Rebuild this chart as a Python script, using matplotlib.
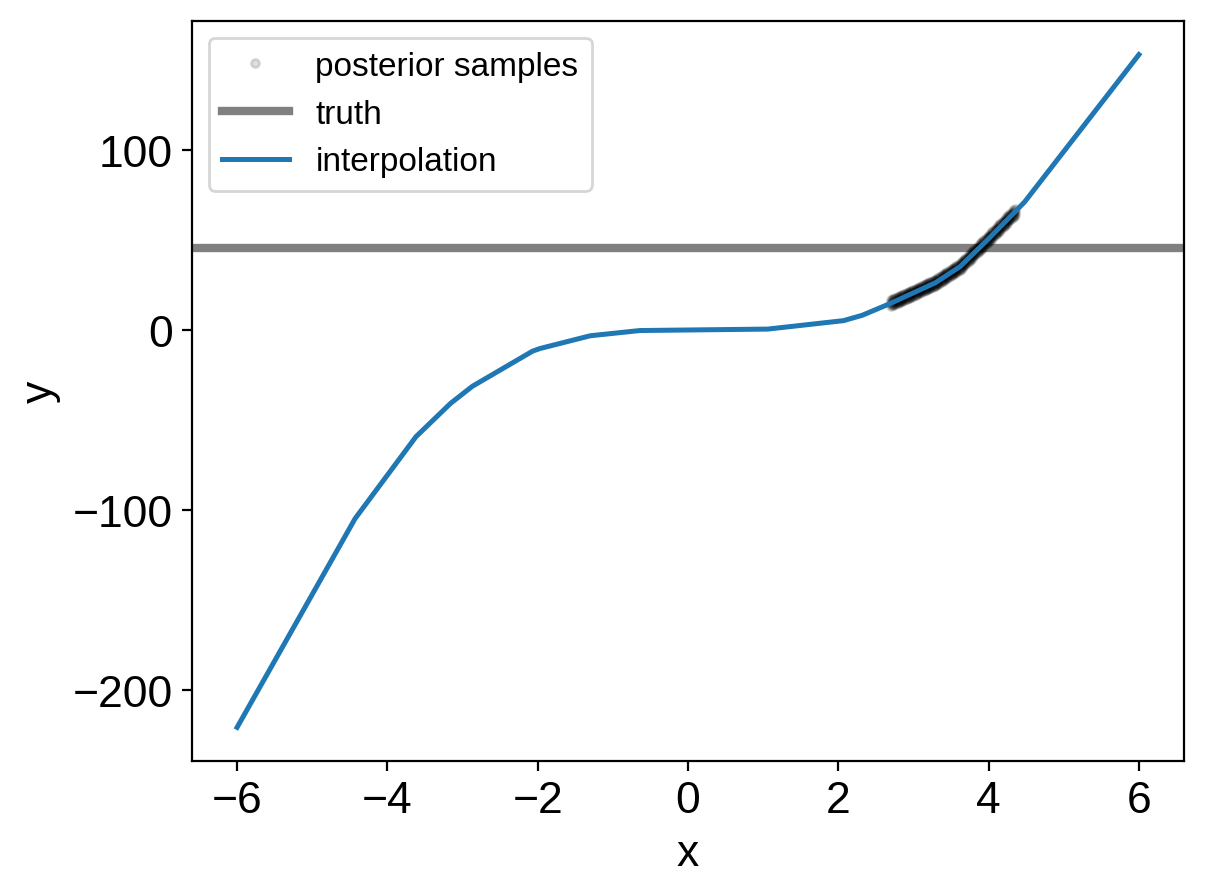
import matplotlib
matplotlib.use("Agg")
import matplotlib.pyplot as plt

plt.rcParams['font.family'] = ['Liberation Sans', 'DejaVu Sans']
plt.rcParams['font.size'] = 16

# interpolation nodes
x_interp = [-6.0, -4.43, -3.62, -3.16, -2.87, -2.07, -1.97, -1.30, -0.64,
            1.06, 2.07, 2.32, 2.69, 3.29, 3.62, 4.00, 4.48, 6.0]
y_interp = [-221.0, -105.0, -59.5, -41.0, -31.5, -12.0, -10.5, -3.4, -0.5,
            0.3, 5.0, 8.0, 14.5, 26.0, 35.0, 50.5, 71.0, 152.8]

truth = 45.5

# posterior samples: one x grid, three chains of y
x_samples = [2.700, 2.715, 2.730, 2.745, 2.760, 2.775, 2.790, 2.805, 2.820, 2.835,
             2.850, 2.865, 2.880, 2.895, 2.910, 2.925, 2.940, 2.955, 2.970, 2.985,
             3.000, 3.015, 3.030, 3.045, 3.060, 3.075, 3.090, 3.105, 3.120, 3.135,
             3.150, 3.165, 3.180, 3.195, 3.210, 3.225, 3.240, 3.255, 3.270, 3.285,
             3.300, 3.315, 3.330, 3.345, 3.360, 3.375, 3.390, 3.405, 3.420, 3.435,
             3.450, 3.465, 3.480, 3.495, 3.510, 3.525, 3.540, 3.555, 3.570, 3.585,
             3.600, 3.615, 3.630, 3.645, 3.660, 3.675, 3.690, 3.705, 3.720, 3.735,
             3.750, 3.765, 3.780, 3.795, 3.810, 3.825, 3.840, 3.855, 3.870, 3.885,
             3.900, 3.915, 3.930, 3.945, 3.960, 3.975, 3.990, 4.005, 4.020, 4.035,
             4.050, 4.065, 4.080, 4.095, 4.110, 4.125, 4.140, 4.155, 4.170, 4.185,
             4.200, 4.215, 4.230, 4.245, 4.260, 4.275, 4.290, 4.305, 4.320, 4.335,
             4.350]
y_chain1 = [14.69, 14.98, 15.27, 15.55, 15.84, 16.13, 16.42, 16.70, 16.99, 17.28,
            17.57, 17.85, 18.14, 18.43, 18.72, 19.00, 19.29, 19.58, 19.87, 20.15,
            20.44, 20.73, 21.02, 21.30, 21.59, 21.88, 22.17, 22.45, 22.74, 23.03,
            23.32, 23.60, 23.89, 24.18, 24.47, 24.75, 25.04, 25.33, 25.62, 25.90,
            26.27, 26.68, 27.09, 27.50, 27.91, 28.32, 28.73, 29.14, 29.55, 29.95,
            30.36, 30.77, 31.18, 31.59, 32.00, 32.41, 32.82, 33.23, 33.64, 34.05,
            34.45, 34.86, 35.41, 36.02, 36.63, 37.24, 37.86, 38.47, 39.08, 39.69,
            40.30, 40.91, 41.53, 42.14, 42.75, 43.36, 43.97, 44.59, 45.20, 45.81,
            46.42, 47.03, 47.64, 48.26, 48.87, 49.48, 50.09, 50.71, 51.35, 51.99,
            52.64, 53.28, 53.92, 54.56, 55.20, 55.84, 56.48, 57.12, 57.76, 58.40,
            59.04, 59.68, 60.32, 60.96, 61.60, 62.25, 62.89, 63.53, 64.17, 64.81,
            65.45]
y_chain2 = [16.19, 16.48, 16.77, 17.05, 17.34, 17.63, 17.92, 18.20, 18.49, 18.78,
            19.07, 19.35, 19.64, 19.93, 20.22, 20.50, 20.79, 21.08, 21.37, 21.65,
            21.94, 22.23, 22.52, 22.80, 23.09, 23.38, 23.67, 23.95, 24.24, 24.53,
            24.82, 25.10, 25.39, 25.68, 25.97, 26.25, 26.54, 26.83, 27.12, 27.40,
            27.77, 28.18, 28.59, 29.00, 29.41, 29.82, 30.23, 30.64, 31.05, 31.45,
            31.86, 32.27, 32.68, 33.09, 33.50, 33.91, 34.32, 34.73, 35.14, 35.55,
            35.95, 36.36, 36.91, 37.52, 38.13, 38.74, 39.36, 39.97, 40.58, 41.19,
            41.80, 42.41, 43.03, 43.64, 44.25, 44.86, 45.47, 46.09, 46.70, 47.31,
            47.92, 48.53, 49.14, 49.76, 50.37, 50.98, 51.59, 52.21, 52.85, 53.49,
            54.14, 54.78, 55.42, 56.06, 56.70, 57.34, 57.98, 58.62, 59.26, 59.90,
            60.54, 61.18, 61.82, 62.46, 63.10, 63.75, 64.39, 65.03, 65.67, 66.31,
            66.95]
y_chain3 = [13.19, 13.48, 13.77, 14.05, 14.34, 14.63, 14.92, 15.20, 15.49, 15.78,
            16.07, 16.35, 16.64, 16.93, 17.22, 17.50, 17.79, 18.08, 18.37, 18.65,
            18.94, 19.23, 19.52, 19.80, 20.09, 20.38, 20.67, 20.95, 21.24, 21.53,
            21.82, 22.10, 22.39, 22.68, 22.97, 23.25, 23.54, 23.83, 24.12, 24.40,
            24.77, 25.18, 25.59, 26.00, 26.41, 26.82, 27.23, 27.64, 28.05, 28.45,
            28.86, 29.27, 29.68, 30.09, 30.50, 30.91, 31.32, 31.73, 32.14, 32.55,
            32.95, 33.36, 33.91, 34.52, 35.13, 35.74, 36.36, 36.97, 37.58, 38.19,
            38.80, 39.41, 40.03, 40.64, 41.25, 41.86, 42.47, 43.09, 43.70, 44.31,
            44.92, 45.53, 46.14, 46.76, 47.37, 47.98, 48.59, 49.21, 49.85, 50.49,
            51.14, 51.78, 52.42, 53.06, 53.70, 54.34, 54.98, 55.62, 56.26, 56.90,
            57.54, 58.18, 58.82, 59.46, 60.10, 60.75, 61.39, 62.03, 62.67, 63.31,
            63.95]

fig = plt.figure(figsize=(1207 / 200, 895 / 200), dpi=200)
ax = fig.add_axes([192 / 1207, 1 - 762 / 895, 992 / 1207, 740 / 895])

ax.plot(x_samples * 3, y_chain1 + y_chain2 + y_chain3, '.', color='k', alpha=0.12,
        label='posterior samples', zorder=3)
ax.axhline(truth, color='gray', lw=3, label='truth', zorder=2)
ax.plot(x_interp, y_interp, color='tab:blue', lw=1.8, label='interpolation', zorder=4)

ax.set_xlabel('x')
ax.set_ylabel('y')
ax.set_xticks([-6, -4, -2, 0, 2, 4, 6])
ax.set_yticks([-200, -100, 0, 100])
ax.legend(loc='upper left', fontsize=12)

fig.savefig('out.png', dpi=200)
